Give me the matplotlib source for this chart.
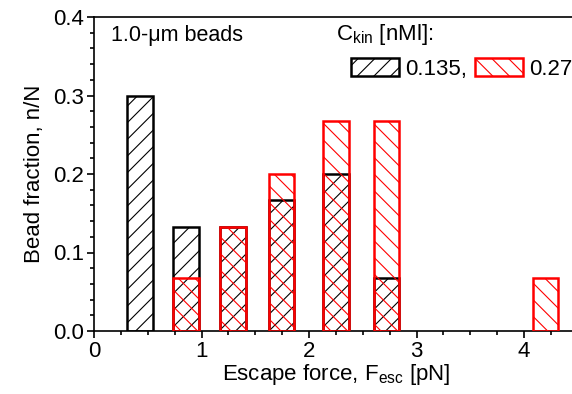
import matplotlib
matplotlib.use("Agg")
import matplotlib.pyplot as plt
from matplotlib.ticker import MultipleLocator, FormatStrFormatter

plt.rcParams['font.family'] = ['Liberation Sans', 'DejaVu Sans']
plt.rcParams['mathtext.fontset'] = 'custom'
plt.rcParams['mathtext.rm'] = 'Liberation Sans'
plt.rcParams['mathtext.it'] = 'Liberation Sans:italic'
plt.rcParams['hatch.linewidth'] = 0.8

# bin centres [pN] and bead fractions for each kinesin concentration
force_135 = [0.425, 0.855, 1.29, 1.744, 2.25, 2.72]
frac_135 = [0.300, 0.133, 0.133, 0.167, 0.200, 0.067]
force_27 = [0.855, 1.29, 1.744, 2.25, 2.72, 4.20]
frac_27 = [0.067, 0.133, 0.200, 0.267, 0.267, 0.067]
labels = ['0.135,', '0.27']
bar_w = 0.24
fs = 16

fig = plt.figure(figsize=(5.72, 3.94), dpi=100)
ax = fig.add_axes([94 / 572, 63 / 394, 4.5 * 107.5 / 572, 314 / 394])

b1 = ax.bar(force_135, frac_135, width=bar_w, facecolor='none',
            edgecolor='black', linewidth=1.8, hatch='//', zorder=2)
b2 = ax.bar(force_27, frac_27, width=bar_w, facecolor='none',
            edgecolor='red', linewidth=1.8, hatch='\\\\', zorder=3)

ax.set_xlim(0, 4.5)
ax.set_ylim(0, 0.4)
ax.xaxis.set_major_locator(MultipleLocator(1))
ax.xaxis.set_minor_locator(MultipleLocator(0.25))
ax.yaxis.set_major_locator(MultipleLocator(0.1))
ax.yaxis.set_minor_locator(MultipleLocator(0.02))
ax.yaxis.set_major_formatter(FormatStrFormatter('%.1f'))
ax.tick_params(which='both', direction='out', width=1.2, labelsize=fs)
ax.tick_params(which='major', length=5, pad=2)
ax.tick_params(which='minor', length=3)
for s in ax.spines.values():
    s.set_linewidth(1.2)

ax.set_xlabel(r'Escape force, F$_{\mathrm{esc}}$ [pN]', fontsize=fs, labelpad=0)
ax.set_ylabel('Bead fraction, n/N', fontsize=fs, labelpad=6)

ax.text(0.036, 0.975, '1.0-\u03bcm beads', transform=ax.transAxes,
        fontsize=15.5, va='top', ha='left')
fig.text(336 / 572, 1 - 40 / 394, r'C$_{\mathrm{kin}}$ [nMl]:', fontsize=fs,
         va='baseline', ha='left')

ax.legend([b1, b2], labels, ncol=2, frameon=False, fontsize=fs,
          loc='upper left', bbox_to_anchor=(351 / 572, 1 - 58 / 394),
          bbox_transform=fig.transFigure, borderpad=0, borderaxespad=0,
          handlelength=2.16, handleheight=0.9, handletextpad=0.27,
          columnspacing=0.36)

fig.savefig('out.png', dpi=100)
